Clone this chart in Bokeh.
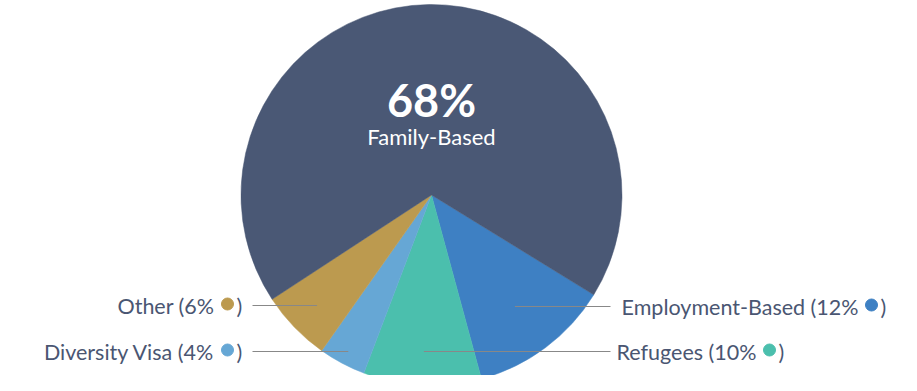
import math
from bokeh.plotting import figure
from bokeh.models import Range1d, ColumnDataSource
from bokeh.core.properties import value
from bokeh.embed import file_html
from bokeh.resources import INLINE

# ---- data ----
categories = ["Employment-Based", "Refugees", "Diversity Visa", "Other", "Family-Based"]
shares = [12, 10, 4, 6, 68]
palette = ["#3e80c3", "#4bbfad", "#66a7d5", "#bc9a4f", "#4a5875"]

# ---- layout (image pixel coords, y down) ----
W, H = 901, 391
CX, CY, R = 431, 194.5, 190.5
START_DEG = -31.6          # start of first slice (math coords), going clockwise
FONT = "Lato"
TEXT_COLOR = "#4a5672"
LINE_COLOR = "#888888"
LABEL_SIZE = "21.5px"

# label placements: side, label row y, dot x, line outer x
label_layout = {
    "Employment-Based": ("right", 306, 871, 610),
    "Refugees": ("right", 351, 769, 610),
    "Diversity Visa": ("left", 351, 227, 252),
    "Other": ("left", 305, 227, 252),
}

def Y(y):
    return H - y

p = figure(width=901, height=375, x_range=Range1d(0, 901), y_range=Range1d(16, 391),
           output_backend="svg", toolbar_location=None, min_border=0)
p.axis.visible = False
p.grid.visible = False
p.outline_line_color = None
p.background_fill_color = "white"
p.border_fill_color = "white"

total = sum(shares)
starts, ends, mids = [], [], []
a = math.radians(START_DEG)
for s in shares:
    sweep = 2 * math.pi * s / total
    starts.append(a)
    ends.append(a - sweep)
    mids.append(a - sweep / 2)
    a -= sweep

src = ColumnDataSource(dict(cat=categories, start=starts, end=ends, color=palette))
p.wedge(x=CX, y=Y(CY), radius=R, start_angle="start", end_angle="end", direction="clock",
        fill_color="color", line_color="color", line_width=0.5, source=src)

# connectors and labels
for cat, s, mid, col in zip(categories, shares, mids, palette):
    if cat not in label_layout:
        continue
    side, ly, dx, lx = label_layout[cat]
    dy_math = Y(ly) - Y(CY)
    inner_x = CX + dy_math / math.tan(mid)
    p.line([inner_x, lx], [Y(ly), Y(ly)], line_color=LINE_COLOR, line_width=1)
    p.text(x=[dx - 13], y=[Y(ly)], text=[f"{cat} ({s}%"], text_align="right", text_baseline="middle",
           text_font=value(FONT), text_font_size=LABEL_SIZE, text_color=TEXT_COLOR)
    p.scatter(x=[dx], y=[Y(ly) + 1.5], size=12, fill_color=col, line_color=col)
    p.text(x=[dx + 9], y=[Y(ly)], text=[")"], text_align="left", text_baseline="middle",
           text_font=value(FONT), text_font_size=LABEL_SIZE, text_color=TEXT_COLOR)

# center label for biggest slice
big = shares.index(max(shares))
p.text(x=[CX], y=[Y(99)], text=[f"{shares[big]}%"], text_align="center", text_baseline="middle",
       text_font=value(FONT), text_font_size="45px", text_font_style="bold", text_color="white")
p.text(x=[CX], y=[Y(136)], text=[categories[big]], text_align="center", text_baseline="middle",
       text_font=value(FONT), text_font_size="22px", text_color="white")

open("out.html", "w").write(file_html(p, INLINE))
